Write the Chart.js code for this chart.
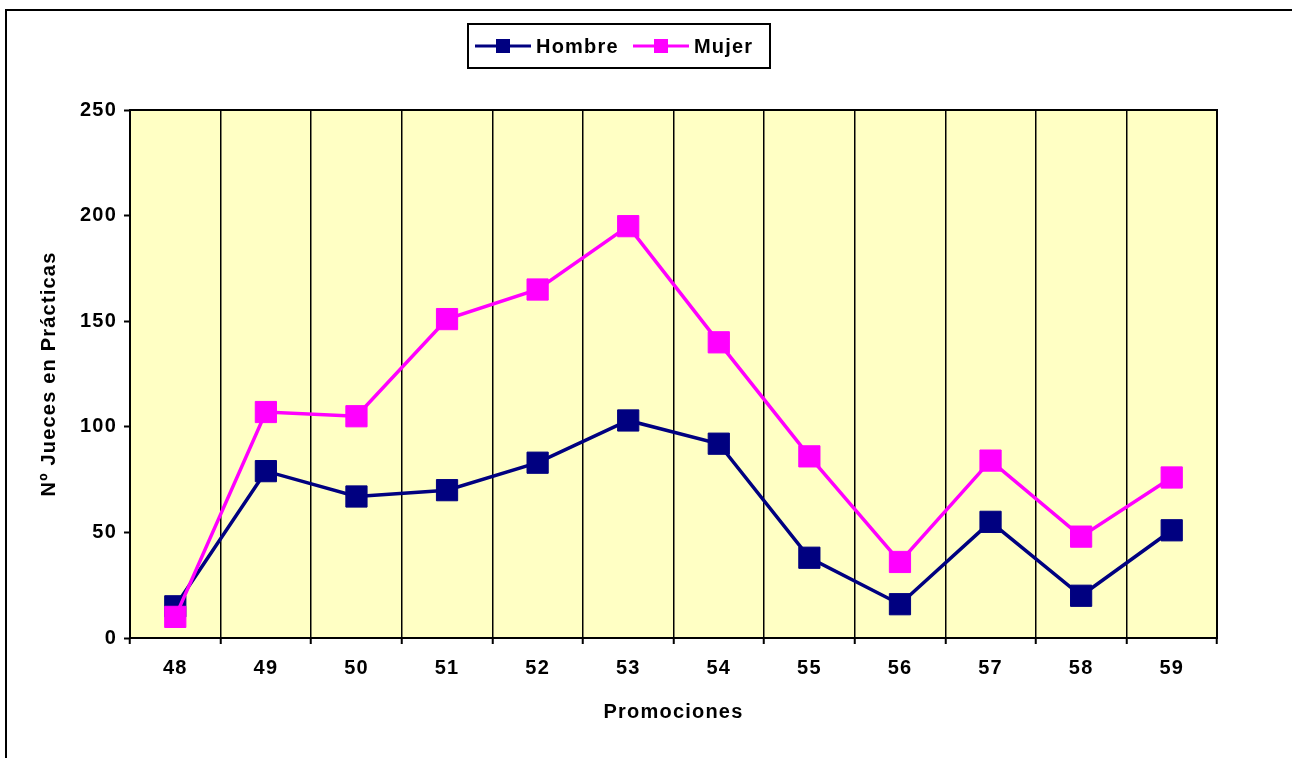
<!DOCTYPE html>
<html>
<head>
<meta charset="utf-8">
<script src="https://cdn.jsdelivr.net/npm/chart.js@4.4.1/dist/chart.umd.min.js"></script>
<style>
  html, body { margin: 0; padding: 0; background: #fff; }
  #wrap { width: 1292px; height: 758px; position: relative; }
</style>
</head>
<body>
<div id="wrap"><canvas id="grafico"></canvas></div>
<script>
// datos
const promociones = ["48", "49", "50", "51", "52", "53", "54", "55", "56", "57", "58", "59"];
const hombre = [15, 79, 67, 70, 83, 103, 92, 38, 16, 55, 20, 51];
const mujer = [10, 107, 105, 151, 165, 195, 140, 86, 36, 84, 48, 76];
const ticksY = [0, 50, 100, 150, 200, 250];

const FUENTE = "'Liberation Sans', Arial, sans-serif";
const ESPACIADO = "1.2px";

// fondo amarillo + marco del area de trazado + marco exterior
const fondoPlugin = {
  id: "fondo",
  beforeDraw(chart) {
    const { ctx, chartArea: a } = chart;
    ctx.save();
    ctx.fillStyle = "#FFFFC4";
    ctx.fillRect(a.left, a.top, a.right - a.left, a.bottom - a.top);
    // marco exterior (solo izquierda y arriba visibles)
    ctx.strokeStyle = "#000";
    ctx.lineWidth = 2;
    ctx.beginPath();
    ctx.moveTo(6, 758);
    ctx.lineTo(6, 10);
    ctx.lineTo(1292, 10);
    ctx.stroke();
    ctx.restore();
    ctx.letterSpacing = ESPACIADO;
  },
  afterDatasetsDraw(chart) {
    const { ctx, chartArea: a } = chart;
    ctx.save();
    ctx.strokeStyle = "#000";
    ctx.lineWidth = 2;
    ctx.strokeRect(a.left, a.top, a.right - a.left, a.bottom - a.top);
    ctx.restore();
  },
  afterDraw(chart) {
    // leyenda con marco
    const { ctx } = chart;
    ctx.save();
    ctx.fillStyle = "#fff";
    ctx.fillRect(468, 24, 302, 44);
    ctx.strokeStyle = "#000";
    ctx.lineWidth = 2;
    ctx.strokeRect(468, 24, 302, 44);
    ctx.font = "bold 20px " + FUENTE;
    ctx.letterSpacing = ESPACIADO;
    ctx.textBaseline = "middle";
    const items = [
      { x: 475, ds: chart.data.datasets[0] },
      { x: 633, ds: chart.data.datasets[1] }
    ];
    items.forEach(it => {
      const y = 46;
      ctx.strokeStyle = it.ds.borderColor;
      ctx.lineWidth = 3;
      ctx.beginPath();
      ctx.moveTo(it.x, y);
      ctx.lineTo(it.x + 56, y);
      ctx.stroke();
      ctx.fillStyle = it.ds.borderColor;
      ctx.fillRect(it.x + 21, y - 7, 14, 14);
      ctx.fillStyle = "#000";
      ctx.fillText(it.ds.label, it.x + 61, y + 1);
    });
    ctx.restore();
  }
};

new Chart(document.getElementById("grafico"), {
  type: "line",
  data: {
    labels: promociones,
    datasets: [
      {
        label: "Hombre",
        data: hombre,
        order: 1,
        borderColor: "#000080",
        backgroundColor: "#000080",
        borderWidth: 3.5,
        pointStyle: "rect",
        pointRadius: 15,
        pointHoverRadius: 15,
        pointBorderWidth: 1,
        tension: 0
      },
      {
        label: "Mujer",
        data: mujer,
        order: 0,
        borderColor: "#FF00FF",
        backgroundColor: "#FF00FF",
        borderWidth: 3.5,
        pointStyle: "rect",
        pointRadius: 15,
        pointHoverRadius: 15,
        pointBorderWidth: 1,
        tension: 0
      }
    ]
  },
  options: {
    responsive: true,
    maintainAspectRatio: false,
    animation: false,
    events: [],
    layout: { padding: { top: 110, right: 75, left: 0, bottom: 0 } },
    plugins: {
      legend: { display: false },
      tooltip: { enabled: false }
    },
    scales: {
      x: {
        offset: true,
        afterFit: s => { s.height = 120; },
        grid: {
          offset: true,
          color: "#000",
          lineWidth: 1.5,
          drawTicks: true,
          tickLength: 6,
          tickColor: "#000",
          tickWidth: 2
        },
        border: { color: "#000", width: 2 },
        ticks: {
          color: "#000",
          font: { family: FUENTE, size: 20, weight: "bold" },
          padding: 12,
          maxRotation: 0
        },
        title: {
          display: true,
          text: "Promociones",
          color: "#000",
          font: { family: FUENTE, size: 20, weight: "bold" },
          padding: { top: 0, bottom: 34 }
        }
      },
      y: {
        min: 0,
        max: 250,
        afterFit: s => { s.width = 130; },
        afterBuildTicks: s => { s.ticks = ticksY.map(v => ({ value: v })); },
        grid: {
          drawOnChartArea: false,
          drawTicks: true,
          tickLength: 6,
          tickColor: "#000",
          tickWidth: 2
        },
        border: { color: "#000", width: 2 },
        ticks: {
          color: "#000",
          font: { family: FUENTE, size: 20, weight: "bold" },
          padding: 7
        },
        title: {
          display: true,
          text: "Nº Jueces en Prácticas",
          color: "#000",
          font: { family: FUENTE, size: 20, weight: "bold" },
          padding: { top: 37, bottom: 0 }
        }
      }
    }
  },
  plugins: [fondoPlugin]
});
</script>
</body>
</html>
